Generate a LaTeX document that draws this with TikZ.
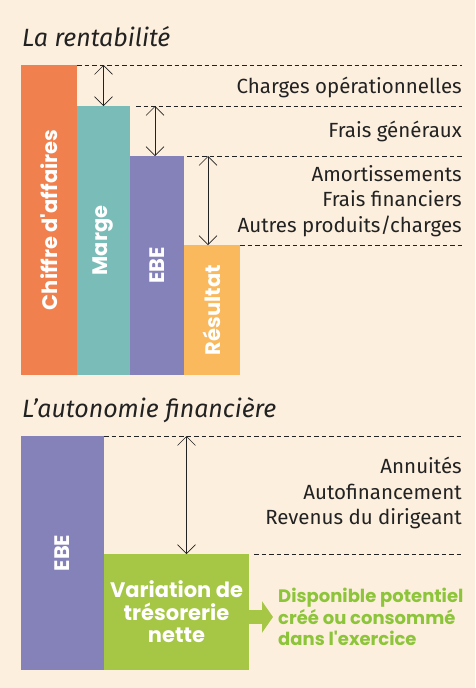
\documentclass[tikz,border=0pt]{standalone}
\usepackage{fontspec}
\setmainfont{Fira Sans}
\newfontfamily\popfont{Poppins}
\usetikzlibrary{arrows.meta,positioning,calc}
\definecolor{cream}{HTML}{FDEFDD}
\definecolor{caorg}{HTML}{F0814F}
\definecolor{mteal}{HTML}{79BCB8}
\definecolor{ebep}{HTML}{8581B9}
\definecolor{resy}{HTML}{F9B95C}
\definecolor{vgreen}{HTML}{A6C646}
\definecolor{gtext}{HTML}{8CC43A}
\definecolor{ink}{HTML}{222222}
\begin{document}
\begin{tikzpicture}[x=1pt,y=-1pt,
 bar/.style={inner sep=0pt,outer sep=0pt,anchor=south west},
 blbl/.style={rotate=90,text=white,font=\popfont\bfseries\fontsize{21}{24}\selectfont},
 dl/.style={draw=ink,line width=.8pt,dash pattern=on 4.5pt off 3pt},
 dim/.style={draw=ink,line width=.8pt,{Straight Barb[length=9pt,width=18pt,line width=.6pt]}-{Straight Barb[length=9pt,width=18pt,line width=.6pt]}},
 rl/.style={anchor=east,align=right,inner sep=0pt,text=ink,font=\fontsize{20.5}{25.5}\selectfont},
 ttl/.style={anchor=west,inner sep=0pt,text=ink,font=\itshape\fontsize{25}{28}\selectfont},
 gtxt/.style={anchor=west,align=left,inner sep=0pt,text=gtext,font=\popfont\bfseries\fontsize{18}{21.5}\selectfont}]
\fill[cream] (0,0) rectangle (475,688);
\useasboundingbox (0,0) rectangle (475,688);
\coordinate (rx) at (462,0);
% la rentabilite
\node[ttl] (t1) at (22,37) {La rentabilité};
\node[bar,fill=caorg,minimum width=56pt,minimum height=310pt] (ca) at (21,375) {};
\node[bar,fill=mteal,minimum width=53pt,minimum height=269pt] (marge) at (ca.south east) {};
\node[bar,fill=ebep,minimum width=54pt,minimum height=219pt] (ebe) at (marge.south east) {};
\node[bar,fill=resy,minimum width=56pt,minimum height=130pt] (res) at (ebe.south east) {};
\node[blbl] at (ca) {Chiffre d'affaires};
\node[blbl] at (marge) {Marge};
\node[blbl] at (ebe) {EBE};
\node[blbl] at (res) {Résultat};
\draw[dl] (ca.north east) -- (ca.north east -| rx);
\draw[dl] ($(marge.north east)+(6,0)$) -- (marge.north east -| rx);
\draw[dl] ($(ebe.north east)+(3,0)$) -- (ebe.north east -| rx);
\draw[dl] (res.north east) -- (res.north east -| rx);
\draw[dim] (marge.north) -- (marge.north |- ca.north);
\coordinate (ea) at ($(ebe.north)+(-2,0)$);
\draw[dim] (ea) -- (ea |- marge.north);
\coordinate (ra) at ($(res.north)+(-4,0)$);
\draw[dim] (ra) -- (ra |- ebe.north);
\node[rl] (chg) at (462,87) {Charges opérationnelles};
\node[rl] (fg) at (462,131) {Frais généraux};
\node[rl] (amo) at (462,201) {Amortissements\\Frais financiers\\Autres produits/charges};
% l'autonomie financiere
\node[ttl] (t2) at (22,410) {L'autonomie financière};
\node[bar,fill=ebep,minimum width=83pt,minimum height=234pt] (ebe2) at (21,670) {};
\node[bar,fill=vgreen,minimum width=145pt,minimum height=116pt,align=center,text=white,
 font=\popfont\bfseries\fontsize{21}{22.5}\selectfont] (vtn) at (ebe2.south east) {Variation de\\trésorerie\\nette};
\node[blbl] at (ebe2) {EBE};
\draw[dl] (ebe2.north east) -- (ebe2.north east -| rx);
\draw[dl] ($(vtn.north east)+(5,0)$) -- (vtn.north east -| rx);
\coordinate (va) at ($(vtn.north)+(10,0)$);
\draw[dim] (va) -- (va |- ebe2.north);
\node[rl] (ann) at (462,493) {Annuités\\Autofinancement\\Revenus du dirigeant};
\node[gtxt] (dispo) at (278,617) {Disponible potentiel\\créé ou consommé\\dans l'exercice};
\draw[vgreen,line width=14pt,-{Triangle[length=11pt,width=31pt]},shorten >=5pt] (vtn.east |- dispo.west) -- (dispo.west);
\end{tikzpicture}
\end{document}
